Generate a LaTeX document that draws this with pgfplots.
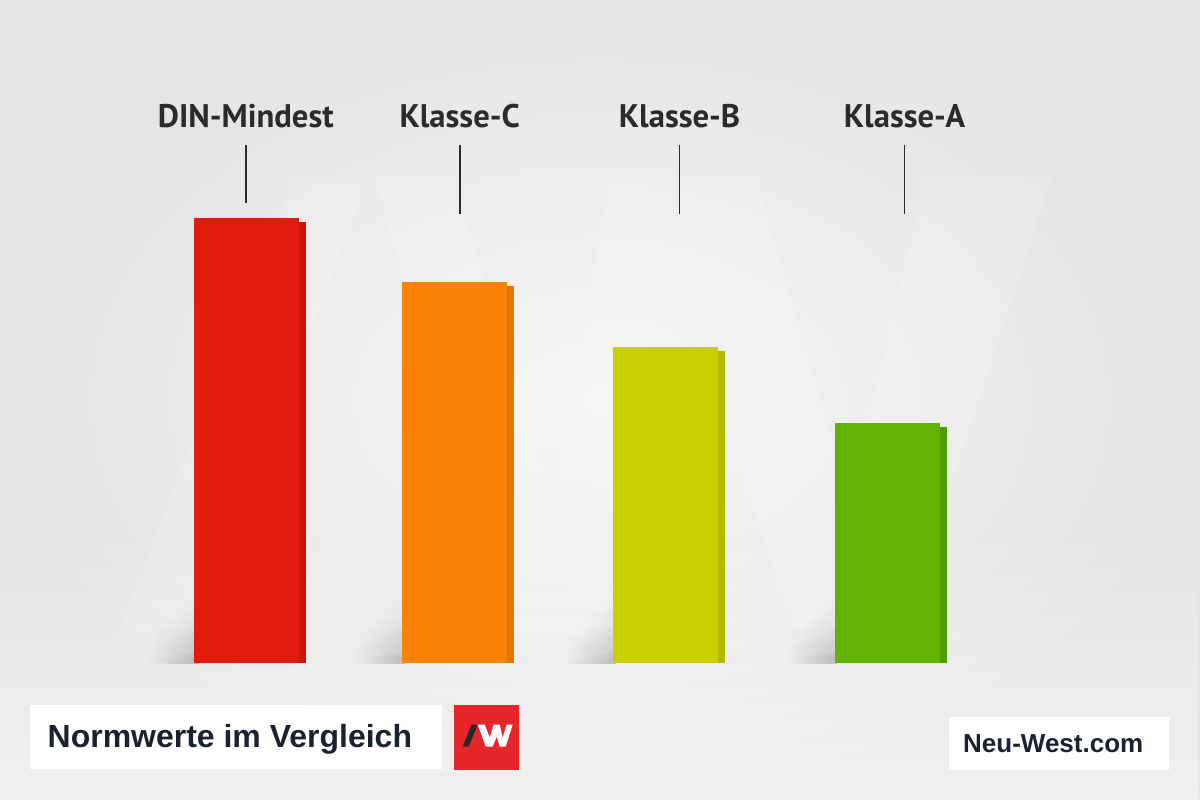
\documentclass[border=0pt]{standalone}
\usepackage{pgfplots}
\pgfplotsset{compat=1.18}
\usepackage{fontspec}
\setmainfont{Liberation Sans}
\newfontfamily\labfont{PT Sans}
\usetikzlibrary{fadings}

\definecolor{bgin}{HTML}{F5F5F5}
\definecolor{bgout}{HTML}{E5E5E5}
\definecolor{ink}{HTML}{2B2B2B}
\definecolor{navy}{HTML}{1A2230}
\definecolor{logored}{HTML}{E5262A}
\definecolor{logodark}{HTML}{2A2A2A}

\definecolor{redF}{HTML}{E21B10}
\definecolor{redS}{HTML}{CA170D}
\definecolor{oraF}{HTML}{FB8205}
\definecolor{oraS}{HTML}{E67600}
\definecolor{yelF}{HTML}{C9D000}
\definecolor{yelS}{HTML}{B2B900}
\definecolor{grnF}{HTML}{62B200}
\definecolor{grnS}{HTML}{509C00}

\begin{document}
\begin{tikzpicture}
\useasboundingbox (0,0) rectangle (12cm,8cm);

% backdrop, pixel-like grid: 1 unit = 0.1 mm, y pointing down
\begin{scope}[x=0.01cm,y=-0.01cm,yshift=8cm]
  \shade[inner color=bgin, outer color=bgout] (0,0) rectangle (1200,800);
  \fill[white, opacity=0.45, path fading=north] (0,520) rectangle (1200,800);
  % faint brand watermark
  \fill[white, opacity=0.13] (295,177) -- (370,177) -- (190,640) -- (115,640) -- cycle;
  \fill[white, opacity=0.13] (375,177) -- (453,177) -- (555,500) -- (610,177) -- (756,177)
      -- (850,500) -- (926,177) -- (1053,177) -- (900,640) -- (800,640) -- (690,330)
      -- (600,640) -- (500,640) -- cycle;
  % soft floor shadows left of the bars
  \foreach \l in {195,401,612,833}{
    \foreach \w in {3,6,...,45}{
      \fill[black, opacity=0.012, path fading=north]
        (\l-\w,{664-80+\w}) rectangle (\l+4,664);
    }
  }
\end{scope}

\begin{axis}[
  at={(0,1.37cm)}, anchor=south west,
  scale only axis, width=12cm, height=6.63cm,
  xmin=0, xmax=1200, ymin=0, ymax=149,
  hide axis, clip=false,
  ybar, bar shift=0pt,
]
% side faces
\addplot[fill=redS, draw=none, bar width=8] coordinates {(302,99.2)};
\addplot[fill=oraS, draw=none, bar width=8] coordinates {(510,84.8)};
\addplot[fill=yelS, draw=none, bar width=8] coordinates {(721,70.2)};
\addplot[fill=grnS, draw=none, bar width=8] coordinates {(943,53.1)};
% front faces
\addplot[fill=redF, draw=none, bar width=105] coordinates {(246,100)};
\addplot[fill=oraF, draw=none, bar width=105] coordinates {(454,85.6)};
\addplot[fill=yelF, draw=none, bar width=105] coordinates {(665,71.0)};
\addplot[fill=grnF, draw=none, bar width=105] coordinates {(887,53.9)};
\end{axis}

\begin{scope}[x=0.01cm,y=-0.01cm,yshift=8cm]
  % category labels with leader lines
  \foreach \x/\t/\b in {246/DIN-Mindest/203, 460/Klasse-C/214, 680/Klasse-B/214, 905/Klasse-A/214}{
    \node[anchor=base, inner sep=0pt, text=ink, font=\labfont\bfseries\fontsize{9.3pt}{11pt}\selectfont]
      at (\x,128) {\t};
    \draw[ink, line width=0.45pt] (\x,145) -- (\x,\b);
  }
  % footer boxes
  \fill[white] (30,705) rectangle (442,769);
  \node[anchor=base west, inner sep=0pt, text=navy, font=\bfseries\fontsize{9.1pt}{10pt}\selectfont]
    at (47,748) {Normwerte im Vergleich};
  \fill[logored] (454,705) rectangle (519,770);
  \begin{scope}[shift={(454,705)}]
    \fill[logodark] (18,20) -- (24,20) -- (15,42) -- (9,42) -- cycle;
    \fill[white] (24,20) -- (31,20) -- (36,33) -- (40,20) -- (46,20) -- (49,33) -- (53,20)
      -- (59,20) -- (52,42) -- (46,42) -- (43,32) -- (39,42) -- (32,42) -- cycle;
  \end{scope}
  \fill[white] (950,717) rectangle (1170,770);
  \node[anchor=base west, inner sep=0pt, text=navy, font=\bfseries\fontsize{7.4pt}{9pt}\selectfont]
    at (963,753) {Neu-West.com};
\end{scope}
\end{tikzpicture}
\end{document}
